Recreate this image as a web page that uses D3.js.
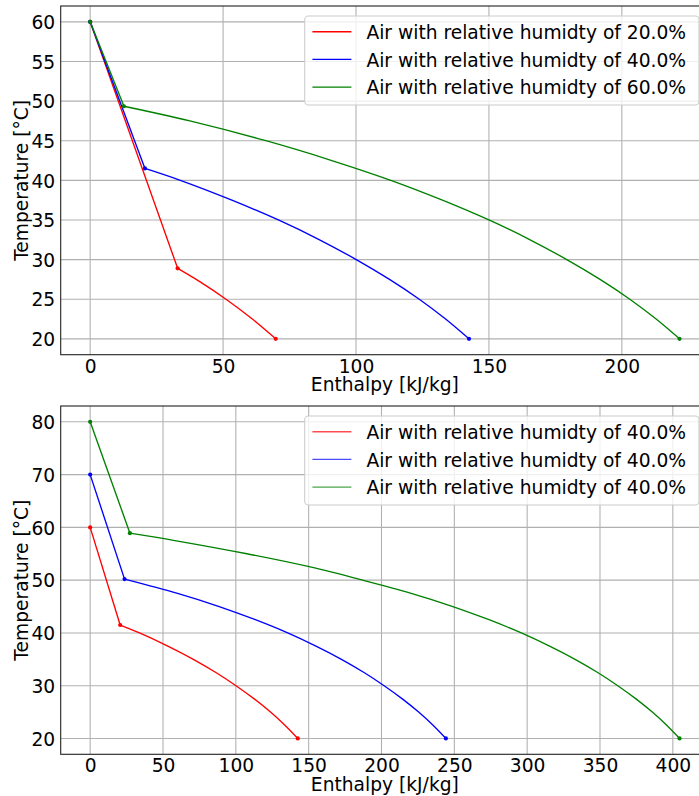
<!DOCTYPE html>
<html>
<head>
<meta charset="utf-8">
<script src="https://cdn.jsdelivr.net/npm/d3@7"></script>
<style>
  html, body { margin: 0; padding: 0; background: #fff; }
  svg { display: block; font-family: "DejaVu Sans", sans-serif; }
</style>
</head>
<body>
<svg id="chart" width="699" height="796"></svg>
<script>
// Cooling paths of humid air: temperature against enthalpy removed.
// Each series: a straight sensible-cooling leg down to the dew point,
// then the condensing curve along saturation down to 20 °C.

// Upper panel: start at 60 °C, three humidities
const upperLabels = [
  "Air with relative humidty of 20.0%",
  "Air with relative humidty of 40.0%",
  "Air with relative humidty of 60.0%"
];
const upper20H = [0, 32.9, 39.9, 51.1, 61.0, 69.8];
const upper20T = [60, 28.9, 27.5, 25, 22.5, 20];
const upper40H = [0, 20.6, 33.9, 53.3, 70.8, 86.3, 100.1, 112.6, 123.8, 133.7, 142.5];
const upper40T = [60, 41.5, 40, 37.5, 35, 32.5, 30, 27.5, 25, 22.5, 20];
const upper60H = [0, 12.7, 37.5, 66.1, 90.9, 113.1, 132.5, 150, 165.5, 179.3, 191.8, 203, 212.9, 221.7];
const upper60T = [60, 49.35, 47.5, 45, 42.5, 40, 37.5, 35, 32.5, 30, 27.5, 25, 22.5, 20];

// Lower panel: 40 % humidity, starting at 60, 70 and 80 °C
const lowerLabels = [
  "Air with relative humidty of 40.0%",
  "Air with relative humidty of 40.0%",
  "Air with relative humidty of 40.0%"
];
const lower60H = [0, 20.6, 33.9, 53.3, 70.8, 86.3, 100.1, 112.6, 123.8, 133.7, 142.5];
const lower60T = [60, 41.5, 40, 37.5, 35, 32.5, 30, 27.5, 25, 22.5, 20];
const lower70H = [0, 23.6, 60, 88.6, 113.4, 135.6, 155, 172.5, 188, 201.8, 214.3, 225.5, 235.4, 244.2];
const lower70T = [70, 50.2, 47.5, 45, 42.5, 40, 37.5, 35, 32.5, 30, 27.5, 25, 22.5, 20];
const lower80H = [0, 27.3, 58.1, 107.6, 151.1, 187.1, 220.4, 249, 273.8, 296, 315.4, 332.9, 348.4, 362.2, 374.7, 385.9, 395.8, 404.6];
const lower80T = [80, 58.9, 57.5, 55, 52.5, 50, 47.5, 45, 42.5, 40, 37.5, 35, 32.5, 30, 27.5, 25, 22.5, 20];

// Tick values
const upperXTicks = [0, 50, 100, 150, 200];
const upperYTicks = [20, 25, 30, 35, 40, 45, 50, 55, 60];
const lowerXTicks = [0, 50, 100, 150, 200, 250, 300, 350, 400];
const lowerYTicks = [20, 30, 40, 50, 60, 70, 80];

const seriesColors = ["#ff0000", "#0000ff", "#008000"];

const svg = d3.select("#chart");
const FONT = 18.67;

function zip(h, t) { return h.map((v, i) => ({ h: v, t: t[i] })); }

// pad a data extent by 5 % on each side
function padded(lo, hi) {
  const m = (hi - lo) * 0.05;
  return [lo - m, hi + m];
}

function drawPanel(cfg) {
  const { top, bottom, left, right, series, labels, xTicks, yTicks, legendAlpha } = cfg;
  const all = series.flat();
  const x = d3.scaleLinear()
    .domain(padded(d3.min(all, d => d.h), d3.max(all, d => d.h)))
    .range([left, right]);
  const y = d3.scaleLinear()
    .domain(padded(d3.min(all, d => d.t), d3.max(all, d => d.t)))
    .range([bottom, top]);

  const g = svg.append("g");

  // grid
  g.append("g").selectAll("line").data(xTicks).join("line")
    .attr("x1", d => x(d)).attr("x2", d => x(d))
    .attr("y1", top).attr("y2", bottom)
    .style("stroke", "#b0b0b0").style("stroke-width", 1.07);
  g.append("g").selectAll("line").data(yTicks).join("line")
    .attr("x1", left).attr("x2", right)
    .attr("y1", d => y(d)).attr("y2", d => y(d))
    .style("stroke", "#b0b0b0").style("stroke-width", 1.07);

  // axes (labels only, no tick marks)
  const xAxis = d3.axisBottom(x).tickValues(xTicks).tickSize(0).tickPadding(0).tickFormat(d3.format("d"));
  const gx = g.append("g").attr("transform", `translate(0,${bottom})`).call(xAxis);
  gx.select(".domain").remove();
  gx.selectAll(".tick line").remove();
  gx.selectAll("text").attr("font-size", FONT).attr("fill", "#000")
    .attr("font-family", "DejaVu Sans").attr("dy", null).attr("y", 18);

  const yAxis = d3.axisLeft(y).tickValues(yTicks).tickSize(0).tickPadding(0).tickFormat(d3.format("d"));
  const gy = g.append("g").attr("transform", `translate(${left},0)`).call(yAxis);
  gy.select(".domain").remove();
  gy.selectAll(".tick line").remove();
  gy.selectAll("text").attr("font-size", FONT).attr("fill", "#000")
    .attr("font-family", "DejaVu Sans").attr("x", -5.5).attr("dy", "0.36em");

  // axis titles
  g.append("text")
    .attr("x", (left + right) / 2).attr("y", bottom + 36.3)
    .attr("text-anchor", "middle").attr("font-size", FONT).attr("fill", "#000")
    .text("Enthalpy [kJ/kg]");
  g.append("text")
    .attr("transform", `translate(28,${(top + bottom) / 2}) rotate(-90)`)
    .attr("text-anchor", "middle").attr("font-size", FONT).attr("fill", "#000")
    .text("Temperature [°C]");

  // data: straight leg to dew point, then smooth condensing curve
  const straight = d3.line().x(d => x(d.h)).y(d => y(d.t));
  const curved = d3.line().x(d => x(d.h)).y(d => y(d.t)).curve(d3.curveCatmullRom.alpha(0.5));
  series.forEach((pts, i) => {
    g.append("path").attr("d", straight(pts.slice(0, 2)))
      .style("fill", "none").style("stroke", seriesColors[i]).style("stroke-width", 1.35);
    g.append("path").attr("d", curved(pts.slice(1)))
      .style("fill", "none").style("stroke", seriesColors[i]).style("stroke-width", 1.35);
    const marks = [pts[0], pts[1], pts[pts.length - 1]];
    g.append("g").selectAll("circle").data(marks).join("circle")
      .attr("cx", d => x(d.h)).attr("cy", d => y(d.t)).attr("r", 2.1)
      .style("fill", seriesColors[i]);
  });

  // spines
  g.append("rect")
    .attr("x", left).attr("y", top)
    .attr("width", right - left).attr("height", bottom - top)
    .style("fill", "none").style("stroke", "#222").style("stroke-width", 1.1);

  // legend
  const lx = right - 10 - 394.3, ly = top + 10;
  const lg = g.append("g");
  lg.append("rect")
    .attr("x", lx).attr("y", ly).attr("width", 394.3).attr("height", 89)
    .attr("rx", 3.7).attr("ry", 3.7)
    .style("fill", "#fff").style("fill-opacity", 0.8)
    .style("stroke", "#cccccc").style("stroke-width", 1.07);
  labels.forEach((lab, i) => {
    const cy = ly + 15.7 + i * 27.7;
    lg.append("line")
      .attr("x1", lx + 7.7).attr("x2", lx + 46.7)
      .attr("y1", cy).attr("y2", cy)
      .style("stroke", seriesColors[i]).style("stroke-width", 1.4)
      .style("stroke-opacity", legendAlpha);
    lg.append("text")
      .attr("x", lx + 61.7).attr("y", cy + 7.2)
      .attr("font-size", FONT).style("fill", "#000")
      .text(lab);
  });
}

drawPanel({
  top: 6, bottom: 354.7, left: 60.7, right: 709,
  series: [zip(upper20H, upper20T), zip(upper40H, upper40T), zip(upper60H, upper60T)],
  labels: upperLabels, xTicks: upperXTicks, yTicks: upperYTicks, legendAlpha: 1
});

drawPanel({
  top: 406, bottom: 754.3, left: 60.7, right: 709,
  series: [zip(lower60H, lower60T), zip(lower70H, lower70T), zip(lower80H, lower80T)],
  labels: lowerLabels, xTicks: lowerXTicks, yTicks: lowerYTicks, legendAlpha: 0.7
});
</script>
</body>
</html>
